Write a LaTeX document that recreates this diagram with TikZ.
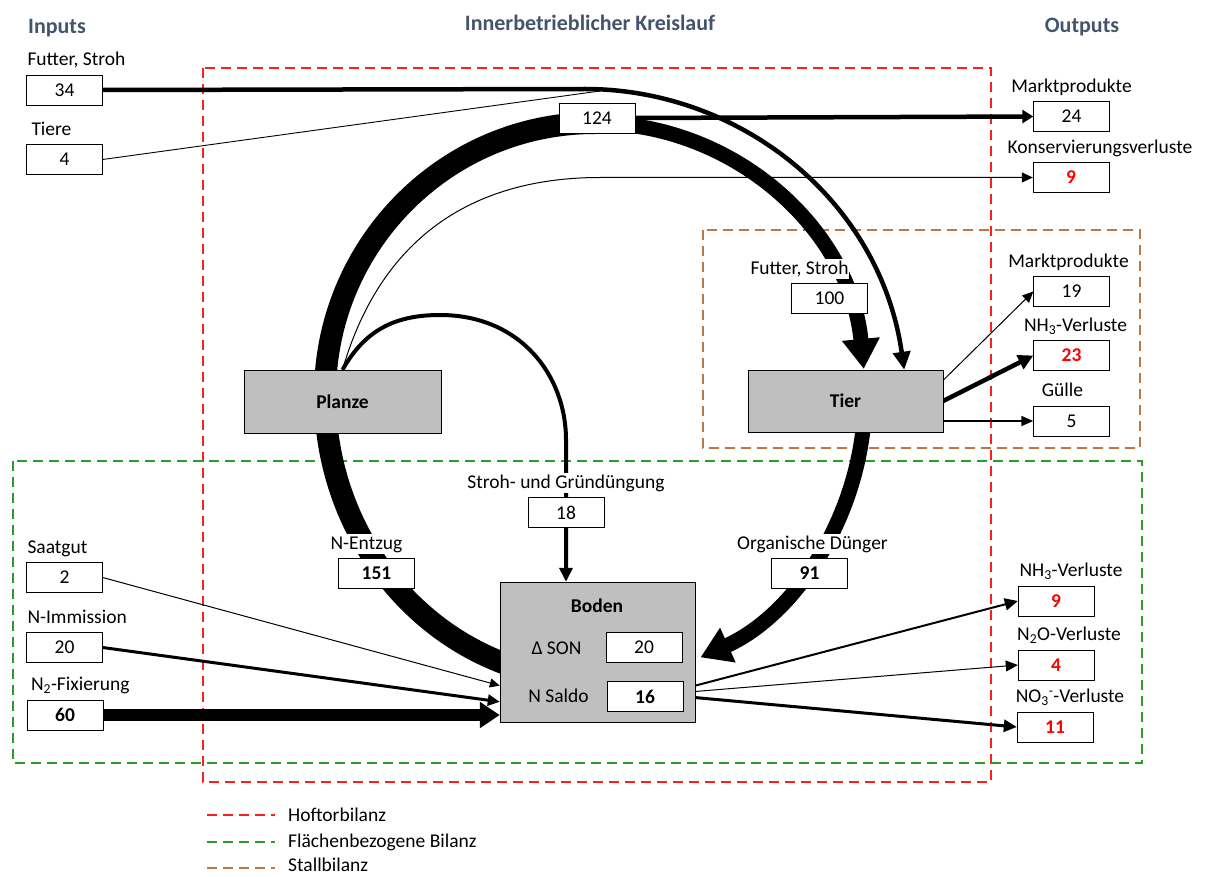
\documentclass[tikz,border=0pt]{standalone}
\usepackage{fontspec}
\setmainfont{Carlito}
\usetikzlibrary{arrows.meta}
\usetikzlibrary{positioning}
\usetikzlibrary{calc}
\usetikzlibrary{backgrounds}
\definecolor{hofred}{RGB}{255,30,30}
\definecolor{flgreen}{RGB}{40,160,40}
\definecolor{stbrown}{RGB}{185,120,70}
\definecolor{ttlblue}{RGB}{68,84,106}
\definecolor{procgray}{RGB}{191,191,191}
\newcommand{\txt}{\fontsize{19.5}{23}\selectfont}
\tikzset{pxp/.style={
  x=1pt,
  y=-1pt
}}
\tikzset{val/.style={
  draw,
  fill=white,
  minimum width=76pt,
  minimum height=30pt,
  inner sep=0pt,
  font=\txt
}}
\tikzset{bval/.style={val,font=\txt\bfseries}}
\tikzset{lossval/.style={bval,text=red}}
\tikzset{lbl/.style={fill=white,inner sep=1pt,text height=14pt,text depth=4pt,font=\txt}}
\tikzset{proc/.style={
  draw,
  fill=procgray,
  minimum width=195pt,
  inner sep=0pt,
  font=\txt\bfseries
}}
\tikzset{ttl/.style={text=ttlblue,font=\fontsize{22}{26}\selectfont\bfseries}}
\tikzset{bal/.style={dash pattern=on 10pt off 6pt,line width=1.2pt}}
\tikzset{headed/.style 2 args={-{Triangle[width=#1pt,length=#2pt]}}}

\begin{document}
\begin{tikzpicture}[pxp]
    \useasboundingbox (0,0) rectangle (1206,877);

    % Titles
    \node[ttl] (tin) at (57,28) {Inputs};
    \node[ttl] (tkr) at (590,23) {Innerbetrieblicher Kreislauf};
    \node[ttl] (tout) at (1082,27) {Outputs};

    % Process boxes
    \node[proc,minimum width=197pt,minimum height=63pt] (planze) at (342.5,401.5) {Planze};
    \node[proc,minimum height=62pt] (tier) at (845.5,401) {Tier};
    \node[proc,minimum height=140pt] (boden) at (597.5,652) {};
    \node[lbl,fill=none,font=\txt\bfseries] (lboden) at (597,607) {Boden};
    \node[lbl,fill=none] (lson) at (556.5,649) {Δ SON};
    \node[lbl,fill=none] (lsal) at (558.5,697) {N Saldo};
    \node[val] (son20) at (644,647.5) {20};
    \node[bval] (sal16) at (645,696.5) {16};

    % Inputs
    \node[val] (in34) at (64.5,90) {34};
    \node[lbl,above right=4pt and 0pt of in34.north west] (lin34) {Futter, Stroh};
    \node[val] (in4) at (64.5,159.5) {4};
    \node[lbl,above right=4pt and 4pt of in4.north west] (lin4) {Tiere};
    \node[val] (sa2) at (64.5,577.5) {2};
    \node[lbl,above right=4pt and 0pt of sa2.north west] (lsa2) {Saatgut};
    \node[val] (ni20) at (64.5,647.5) {20};
    \node[lbl,above right=4pt and 0pt of ni20.north west] (lni20) {N-Immission};
    \node[bval] (nf60) at (65,715) {60};
    \node[lbl,above right=4pt and 3pt of nf60.north west] (lnf60) {N\textsubscript{2}-Fixierung};

    % Inner loop values
    \node[val] (b124) at (597,118) {124};
    \node[val] (f100) at (829.5,298.5) {100};
    \node[lbl,above=4pt of f100,xshift=-30pt] (lf100) {Futter, Stroh};
    \node[val] (s18) at (566,512.5) {18};
    \node[lbl,above=4pt of s18] (ls18) {Stroh- und Gründüngung};
    \node[bval] (e151) at (376.5,573.5) {151};
    \node[lbl,above=4pt of e151,xshift=-10pt] (le151) {N-Entzug};
    \node[bval] (o91) at (809.5,573.5) {91};
    \node[lbl,above=4pt of o91,xshift=3pt] (lo91) {Organische Dünger};

    % Outputs
    \node[val] (m24) at (1071.5,116.5) {24};
    \node[lbl,above=4pt of m24] (lm24) {Marktprodukte};
    \node[lossval] (k9) at (1071,177.5) {9};
    \node[lbl,above=4pt of k9,xshift=29pt] (lk9) {Konservierungsverluste};
    \node[val] (m19) at (1071.5,291.5) {19};
    \node[lbl,above=4pt of m19,xshift=-3pt] (lm19) {Marktprodukte};
    \node[lossval] (nh23) at (1071.5,355.5) {23};
    \node[lbl,above=4pt of nh23,xshift=4pt] (lnh23) {NH\textsubscript{3}-Verluste};
    \node[val] (g5) at (1071.5,421) {5};
    \node[lbl,above=4pt of g5,xshift=-9pt] (lg5) {Gülle};
    \node[lossval] (nh9) at (1056,601) {9};
    \node[lbl,above=4pt of nh9,xshift=15pt] (lnh9) {NH\textsubscript{3}-Verluste};
    \node[lossval] (no4) at (1056,665) {4};
    \node[lbl,above=4pt of no4,xshift=13pt] (lno4) {N\textsubscript{2}O-Verluste};
    \node[lossval] (no11) at (1055,727) {11};
    \node[lbl,above=4pt of no11,xshift=15pt] (lno11) {NO\textsubscript{3}\textsuperscript{-}-Verluste};

    % Legend
    \node[lbl,fill=none,anchor=west] (lhof) at (287,816) {Hoftorbilanz};
    \node[lbl,fill=none,anchor=west] (lfl) at (287,842) {Flächenbezogene Bilanz};
    \node[lbl,fill=none,anchor=west] (lst) at (287,866) {Stallbilanz};

    \begin{scope}[on background layer]
      % Balance boundaries
      \draw[bal,hofred] (203,68) rectangle (991,782);
      \draw[bal,flgreen] (13,461) rectangle (1142,763);
      \draw[bal,stbrown] (703,230) rectangle (1140,448);
      \draw[bal,hofred] (207,815) -- (275,815);
      \draw[bal,flgreen] (207,842) -- (275,842);
      \draw[bal,stbrown] (207,868) -- (275,868);

      % Main loop: Boden - Planze - Tier - Boden
      \coordinate (ctr) at (595,395);
      \draw[line width=22pt] (ctr) ++(108:270 and 285)
        arc[start angle=108,end angle=180,x radius=270,y radius=285]
        arc[start angle=180,end angle=270,x radius=270,y radius=272];
      \draw[line width=15pt,headed={36}{30}] (ctr) ++(270:270 and 272)
        arc[start angle=270,end angle=354.5,x radius=270,y radius=272];
      \draw[line width=15pt,headed={36}{30}] (ctr) ++(6:270 and 285)
        arc[start angle=6,end angle=67,x radius=270,y radius=285];

      % Feed from outside
      \coordinate (jn) at (600,91);
      \draw[line width=4.5pt,headed={17}{18}] (in34.east) -- (585,89)
        .. controls (740,89) and (880,200) .. (tier.28);
      \draw[line width=0.9pt] (in4.east) -- (jn);
      \draw[line width=4.5pt,headed={13}{11}] (b124.east) -- (m24.west);

      % Planze flows
      \draw[line width=1pt,headed={10}{11}] (planze.north)
        .. controls (380,240) and (470,177.5) .. (600,177.5) -- (k9.west);
      \draw[line width=4pt,headed={13}{14}] (planze.north)
        .. controls (365,330) and (395,315) .. (440,315)
        .. controls (520,315) and (566,375) .. (566,440)
        -- (s18 |- boden.north);

      % Tier flows
      \draw[line width=1pt,headed={10}{11}] (tier.12) -- (m19.west);
      \draw[line width=4.5pt,headed={15}{15}] (tier.east) -- (nh23.west);
      \draw[line width=1.5pt,headed={10}{12}] (tier.east |- g5.west) -- (g5.west);

      % Boden inputs
      \draw[line width=1pt,headed={9}{10}] (sa2.east) -- (boden.199);
      \draw[line width=3pt,headed={11}{12}] (ni20.east) -- (boden.207);
      \draw[line width=12pt,headed={25}{20}] (nf60.east) -- (nf60.east -| boden.west);

      % Boden losses
      \draw[line width=2pt,headed={12}{13}] (boden.341) -- (nh9.west);
      \draw[line width=1pt,headed={11}{12}] (boden.338) -- (no4.west);
      \draw[line width=3pt,headed={12}{13}] (boden.335) -- (no11.west);
    \end{scope}

\end{tikzpicture}
\end{document}
